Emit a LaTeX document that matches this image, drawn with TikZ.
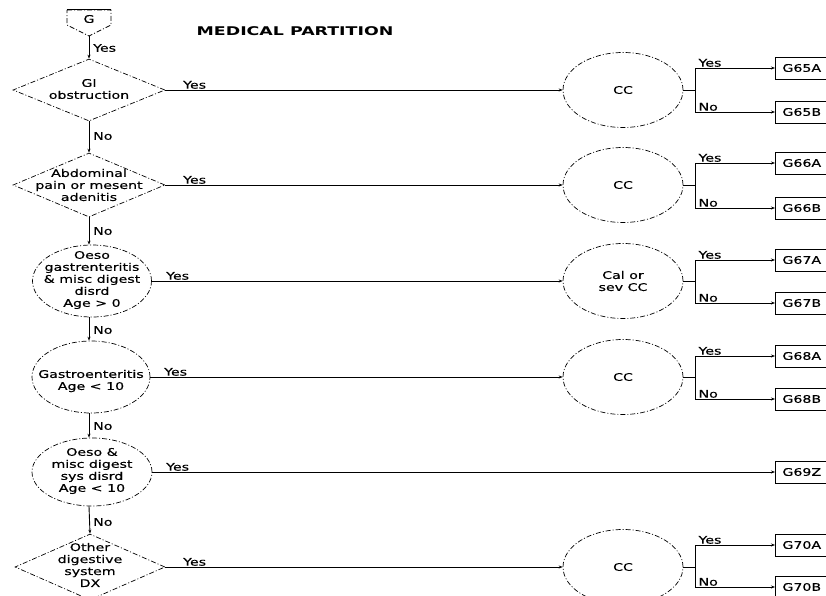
\documentclass[tikz,border=0pt]{standalone}
\usepackage{fontspec}
\setmainfont{DejaVu Sans}[FakeStretch=1.35,FakeBold=0.5]
\newfontfamily\titlefont{DejaVu Sans}[FakeStretch=1.45]
\usetikzlibrary{shapes.geometric,arrows.meta}
\tikzset{
  txt/.style={font=\fontsize{10.5}{12}\selectfont, inner sep=0pt, align=center},
  lbl/.style={font=\fontsize{10.5}{11}\selectfont, inner sep=1pt},
  outline/.style={draw, line width=0.7pt, dash pattern=on 5pt off 2pt on 1pt off 2pt},
  dia/.style={outline, diamond, inner sep=0pt},
  ell/.style={outline, ellipse, inner sep=0pt},
  box/.style={draw, line width=0.8pt, minimum height=22pt, text width=46pt, inner xsep=7pt, inner ysep=0pt, anchor=west, font=\fontsize{10.5}{12}\selectfont},
  link/.style={line width=0.9pt, -{Stealth[length=4pt,width=3pt]}},
  plain/.style={line width=0.9pt},
}
\begin{document}
\begin{tikzpicture}[x=1pt,y=-1pt]
\useasboundingbox (0,0) rectangle (826,596);
\clip (0,0) rectangle (826,596);
% title
\node[font=\titlefont\bfseries\fontsize{12}{14}\selectfont, inner sep=0pt] (title) at (295,31) {MEDICAL PARTITION};
% off-page connector G
\draw[outline] (67,10) -- (111,10) -- (111,25) -- (89,36) -- (67,25) -- cycle;
\draw[line width=1pt] (67,10) -- (111,10);
\node[txt] (g) at (89,19) {G};
\coordinate (gtip) at (89,36);
% left column shapes
\node[dia, minimum width=152pt, minimum height=62pt] (d1) at (89,90) {};
\node[txt] (d1t) at (89,89) {GI\\obstruction};
\node[dia, minimum width=152pt, minimum height=64pt] (d2) at (89,185) {};
\node[txt] (d2t) at (89,185) {Abdominal\\pain or mesent\\adenitis};
\node[ell, minimum width=119pt, minimum height=72pt] (e3) at (92,281) {};
\node[txt] (e3t) at (92,280) {Oeso\\gastrenteritis\\\& misc digest\\disrd\\Age > 0};
\node[ell, minimum width=118pt, minimum height=72pt] (e4) at (91,377) {};
\node[txt] (e4t) at (91,381) {Gastroenteritis\\Age < 10};
\node[ell, minimum width=120pt, minimum height=68pt] (e5) at (92,472) {};
\node[txt] (e5t) at (92,471) {Oeso \&\\misc digest\\sys disrd\\Age < 10};
\node[dia, minimum width=150pt, minimum height=66pt] (d6) at (90,567) {};
\node[txt] (d6t) at (90,565) {Other\\digestive\\system\\DX};
% vertical flow
\draw[link] (gtip) -- (d1.north);
\node[lbl, anchor=west] (ly0) at (92,48) {Yes};
\draw[link] (d1.south) -- (d2.north);
\node[lbl, anchor=west] (ln1) at (92,136) {No};
\draw[link] (d2.south) -- (d2.south |- e3.north);
\node[lbl, anchor=west] (ln2) at (92,231) {No};
\draw[link] (d2.south |- e3.south) -- (d2.south |- e4.north);
\node[lbl, anchor=west] (ln3) at (92,330) {No};
\draw[link] (d2.south |- e4.south) -- (d2.south |- e5.north);
\node[lbl, anchor=west] (ln4) at (92,426) {No};
\draw[link] (d2.south |- e5.south) -- (d6.north);
\node[lbl, anchor=west] (ln5) at (92,522) {No};
% right ellipses
\node[ell, minimum width=120pt, minimum height=75pt] (c1) at (623,90) {};
\node[txt] (c1t) at (623,90) {CC};
\node[ell, minimum width=120pt, minimum height=75pt] (c2) at (623,185) {};
\node[txt] (c2t) at (623,185) {CC};
\node[ell, minimum width=120pt, minimum height=75pt] (c3) at (623,281) {};
\node[txt] (c3t) at (623,281) {Cal or\\sev CC};
\node[ell, minimum width=120pt, minimum height=75pt] (c4) at (623,377) {};
\node[txt] (c4t) at (623,377) {CC};
\node[ell, minimum width=120pt, minimum height=75pt] (c6) at (623,567) {};
\node[txt] (c6t) at (623,567) {CC};
% boxes
\node[box] (b1a) at (775,68) {G65A};
\node[box] (b1b) at (775,112) {G65B};
\node[box] (b2a) at (775,163) {G66A};
\node[box] (b2b) at (775,208) {G66B};
\node[box] (b3a) at (775,260) {G67A};
\node[box] (b3b) at (775,303) {G67B};
\node[box] (b4a) at (775,356) {G68A};
\node[box] (b4b) at (775,399) {G68B};
\node[box] (b5) at (775,472) {G69Z};
\node[box] (b6a) at (775,545) {G70A};
\node[box] (b6b) at (775,587) {G70B};
% yes lines left to right
\draw[link] (d1.east) -- (c1.west);
\node[lbl, anchor=south west] (y1) at (182,90) {Yes};
\draw[link] (d2.east) -- (c2.west);
\node[lbl, anchor=south west] (y2) at (182,185) {Yes};
\draw[link] (e3.east) -- (c3.west);
\node[lbl, anchor=south west] (y3) at (165,281) {Yes};
\draw[link] (e4.east) -- (c4.west);
\node[lbl, anchor=south west] (y4) at (163,377) {Yes};
\draw[link] (e5.east) -- (b5.west);
\node[lbl, anchor=south west] (y5) at (165,472) {Yes};
\draw[link] (d6.east) -- (c6.west);
\node[lbl, anchor=south west] (y6) at (182,567) {Yes};
% branches
\foreach \c/\a/\b in {c1/b1a/b1b, c2/b2a/b2b, c3/b3a/b3b, c4/b4a/b4b, c6/b6a/b6b}{
  \coordinate (\c j) at ([xshift=12pt]\c.east);
  \draw[plain] (\c.east) -- (\c j);
  \draw[link] (\c j) |- (\a.west);
  \draw[link] (\c j) |- (\b.west);
  \node[lbl, anchor=south west] at ([xshift=2pt]\c j |- \a.west) {Yes};
  \node[lbl, anchor=south west] at ([xshift=2pt]\c j |- \b.west) {No};
}
\end{tikzpicture}
\end{document}
